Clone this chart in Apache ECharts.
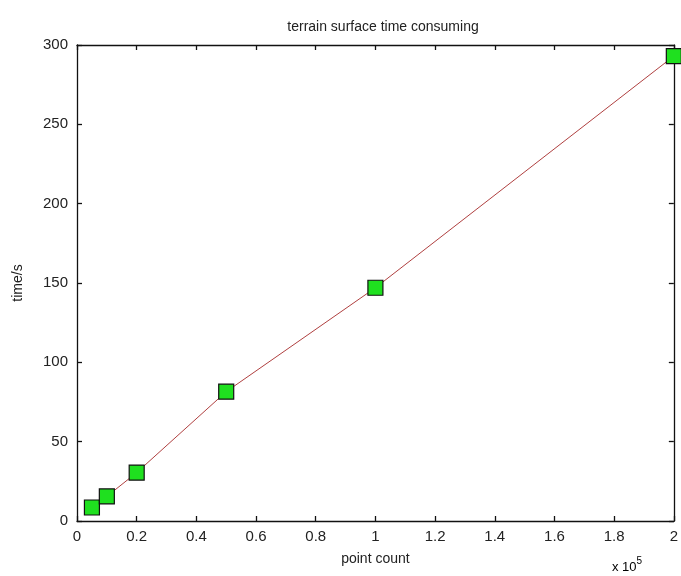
<!DOCTYPE html>
<html>
<head>
<meta charset="utf-8">
<script src="https://cdn.jsdelivr.net/npm/echarts@6/dist/echarts.min.js"></script>
<style>
  html, body { margin: 0; padding: 0; background: #fff; }
  #main { width: 681px; height: 576px; }
</style>
</head>
<body>
<div id="main"></div>
<script>
// point count (x 10^5) and time in seconds
var pointCount = [0.05, 0.1, 0.2, 0.5, 1, 2];
var timeSec = [8.5, 15.5, 30.5, 81.5, 147, 293];
var xTicks = [0, 0.2, 0.4, 0.6, 0.8, 1, 1.2, 1.4, 1.6, 1.8, 2];
var yTicks = [0, 50, 100, 150, 200, 250, 300];

var chart = echarts.init(document.getElementById('main'));

var font = 'Arial, "Liberation Sans", sans-serif';
function axisLine() {
  return { show: true, onZero: false, lineStyle: { color: '#111', width: 1.3 } };
}
function tickIn() {
  return { show: true, inside: true, length: 5, lineStyle: { color: '#111', width: 1.3 } };
}

var data = [];
for (var i = 0; i < pointCount.length; i++) {
  data.push([pointCount[i], timeSec[i]]);
}

var option = {
  backgroundColor: '#fff',
  animation: false,
  title: {
    text: 'terrain surface time consuming',
    left: 378,
    textAlign: 'center',
    top: 15,
    textStyle: { fontFamily: font, fontSize: 14, fontWeight: 'normal', color: '#222' }
  },
  grid: { left: 77, right: 3, top: 45, bottom: 55 },
  xAxis: [
    {
      type: 'value',
      position: 'bottom',
      min: 0,
      max: 2,
      interval: 0.2,
      name: 'point count',
      nameLocation: 'middle',
      nameGap: 31,
      nameTextStyle: { fontFamily: font, fontSize: 14, color: '#222' },
      axisLine: axisLine(),
      axisTick: tickIn(),
      splitLine: { show: false },
      axisLabel: {
        fontFamily: font, fontSize: 15, color: '#222', margin: 8,
        formatter: function (v) {
          var s = +v.toFixed(1);
          return xTicks.indexOf(s) >= 0 ? String(s) : '';
        }
      }
    },
    {
      type: 'value',
      position: 'top',
      min: 0,
      max: 2,
      interval: 0.2,
      axisLine: axisLine(),
      axisTick: tickIn(),
      axisLabel: { show: false },
      splitLine: { show: false }
    }
  ],
  yAxis: [
    {
      type: 'value',
      position: 'left',
      min: 0,
      max: 300,
      interval: 50,
      name: 'time/s',
      nameLocation: 'middle',
      nameGap: 52,
      nameRotate: 90,
      nameTextStyle: { fontFamily: font, fontSize: 14, color: '#222' },
      axisLine: axisLine(),
      axisTick: tickIn(),
      splitLine: { show: false },
      axisLabel: {
        fontFamily: font, fontSize: 15, color: '#222', margin: 9,
        formatter: function (v) { return yTicks.indexOf(v) >= 0 ? String(v) : ''; }
      }
    },
    {
      type: 'value',
      position: 'right',
      min: 0,
      max: 300,
      interval: 50,
      axisLine: axisLine(),
      axisTick: tickIn(),
      axisLabel: { show: false },
      splitLine: { show: false }
    }
  ],
  graphic: [
    {
      type: 'text',
      left: 612,
      top: 556,
      style: {
        text: '{b|x 10}{s|5}',
        rich: {
          b: { fontFamily: font, fontSize: 13, color: '#222', padding: [6, 0, 0, 0] },
          s: { fontFamily: font, fontSize: 10, color: '#222', padding: [0, 0, 6, 0] }
        }
      }
    }
  ],
  series: [
    {
      type: 'line',
      data: data,
      symbol: 'rect',
      symbolSize: 15,
      lineStyle: { color: '#b04040', width: 1 },
      itemStyle: { color: '#1fe01f', borderColor: '#111', borderWidth: 1.2 },
      clip: false,
      z: 5
    }
  ]
};

chart.setOption(option);
</script>
</body>
</html>
